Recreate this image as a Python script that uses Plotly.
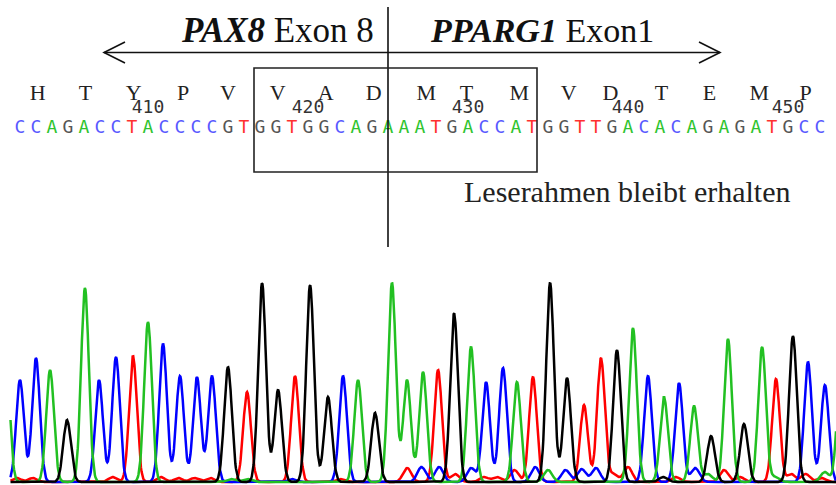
import numpy as np
import plotly.graph_objects as go

W, H = 836, 485

# ---------------- data ----------------
sequence = list("CCAGACCTACCCCGTGGTGGCAGAAATGACCATGGTTGACACAGAGATGCC")
first_base_number = 402
number_labels = [410, 420, 430, 440, 450]

amino_acids = ["H", "T", "Y", "P", "V", "V", "A", "D", "M", "T", "M",
               "V", "D", "T", "E", "M", "P"]
amino_pos = [2.1, 5.1, 8.1, 11.2, 14.0, 17.1, 20.1, 23.1, 26.4, 28.9, 32.2,
             35.3, 37.9, 41.1, 44.1, 47.2, 50.1]

# main chromatogram peaks: position (base units), base call, height
peak_pos = [0.1, 1.0, 2.0, 2.88, 3.94, 5.06, 5.94, 7.0, 8.06, 9.0, 9.94, 11.0,
            12.06, 13.0, 14.0, 15.19, 16.13, 17.13, 18.19, 19.13, 20.25, 21.19,
            22.13, 23.19, 24.25, 25.19, 26.19, 27.13, 28.13, 29.19, 30.13, 31.19,
            32.06, 33.06, 34.13, 35.19, 36.25, 37.31, 38.31, 39.31, 40.25, 41.25,
            42.19, 43.13, 44.19, 45.25, 46.25, 47.38, 48.25, 49.31, 50.25, 51.31,
            52.3]
peak_base = list("A" + "CCAGACCTACCCCGTGGTGGCAGAAATGACCATGGTTGACACAGAGATGCC" + "A")
peak_height = [140, 102, 124, 112, 62, 194, 102, 125, 126, 160, 138, 106,
               105, 106, 115, 90, 199, 92, 106, 197, 85, 106,
               102, 69, 199, 102, 110, 112, 169, 135, 100, 114,
               100, 105, 199, 104, 77, 124, 132, 154, 106, 85,
               99, 76, 46, 143, 58, 135, 103, 146, 120, 97,
               110]

# small background peaks
bg_pos = [0.8, 1.8, 6.8, 9.8, 10.9, 11.9, 12.9, 14.2, 15.2, 18.0, 21.0, 25.2,
          26.1, 27.2, 28.2, 29.2, 30.0, 30.8, 31.9, 33.2, 34.0, 35.1, 36.1, 37.0,
          38.1, 39.0, 41.2, 42.0, 43.2, 44.0, 45.0, 46.0, 48.2, 49.2, 50.1, 51.1, 51.3]
bg_base = ["T", "T", "T", "T", "T", "T", "T", "A", "A", "C", "T", "T",
           "C", "C", "T", "C", "T", "T", "T", "C", "A", "C", "C", "C",
           "T", "T", "G", "T", "C", "A", "T", "T", "A", "T", "T", "T", "A"]
bg_height = [4, 4, 5, 5, 4, 4, 4, 3, 3, 3, 3, 14,
             15, 15, 8, 14, 5, 5, 12, 15, 12, 12, 13, 14,
             8, 15, 5, 5, 14, 8, 12, 5, 5, 8, 8, 4, 10]

channel_colors = {"A": "#22c022", "C": "#0000ff", "G": "#000000", "T": "#ff0000"}
text_colors = {"A": "#2fc42f", "C": "#5858ff", "G": "#555555", "T": "#ff3030"}

# ---------------- geometry ----------------
px_per_base = 16.0
x0_px = 20.0  # pixel of base index 1
def px_to_base(px):
    return (px - x0_px) / px_per_base + 1

x_range = [px_to_base(0), px_to_base(W)]
sigma = 0.24

grid = np.linspace(px_to_base(10.5), x_range[1], 1400)

fig = go.Figure()

for ch in ["T", "C", "A", "G"]:
    y = np.zeros_like(grid)
    for p, b, h in zip(peak_pos, peak_base, peak_height):
        if b == ch:
            y += h * np.exp(-((grid - p) ** 2) / (2 * sigma ** 2))
    for p, b, h in zip(bg_pos, bg_base, bg_height):
        if b == ch:
            y += h * np.exp(-((grid - p) ** 2) / (2 * (sigma * 1.1) ** 2))
    fig.add_trace(go.Scatter(x=grid, y=y, mode="lines",
                             line=dict(color=channel_colors[ch], width=2.5),
                             hoverinfo="skip", showlegend=False,
                             xaxis="x", yaxis="y"))

# ---------------- text rows (pixel y axis y2) ----------------
seq_x = list(range(1, len(sequence) + 1))
fig.add_trace(go.Scatter(
    x=seq_x, y=[128.5] * len(sequence), mode="text", text=sequence,
    textfont=dict(family="DejaVu Sans Mono", size=18,
                  color=[text_colors[s] for s in sequence]),
    hoverinfo="skip", showlegend=False, xaxis="x", yaxis="y2"))

num_x = [n - first_base_number + 1 for n in number_labels]
fig.add_trace(go.Scatter(
    x=num_x, y=[108.5] * len(number_labels), mode="text",
    text=[str(n) for n in number_labels],
    textfont=dict(family="DejaVu Sans Mono", size=18, color="#333333"),
    hoverinfo="skip", showlegend=False, xaxis="x", yaxis="y2"))

fig.add_trace(go.Scatter(
    x=amino_pos, y=[94] * len(amino_acids), mode="text", text=amino_acids,
    textfont=dict(family="Liberation Serif", size=22, color="#222222"),
    hoverinfo="skip", showlegend=False, xaxis="x", yaxis="y2"))

# ---------------- shapes (pixel coords via paper) ----------------
def px(x):
    return x / W
def py(y):
    return 1 - y / H

shapes = []
line_style = dict(color="#111111", width=1.6)
shapes.append(dict(type="line", xref="paper", yref="paper",
                   x0=px(388), x1=px(388), y0=py(7), y1=py(247), line=line_style))
shapes.append(dict(type="line", xref="paper", yref="paper",
                   x0=px(104), x1=px(720), y0=py(52.5), y1=py(52.5), line=line_style))
shapes.append(dict(type="path", xref="paper", yref="paper",
                   path=f"M {px(125)},{py(42)} L {px(104)},{py(52.5)} L {px(125)},{py(63)}",
                   line=line_style))
shapes.append(dict(type="path", xref="paper", yref="paper",
                   path=f"M {px(699)},{py(42)} L {px(720)},{py(52.5)} L {px(699)},{py(63)}",
                   line=line_style))
shapes.append(dict(type="rect", xref="paper", yref="paper",
                   x0=px(254), x1=px(537), y0=py(68), y1=py(172),
                   line=dict(color="#222222", width=1.6)))

annotations = [
    dict(text="<b><i>PAX8</i></b> Exon 8", xref="paper", yref="paper",
         x=px(376), y=py(31), xanchor="right", yanchor="middle", showarrow=False,
         font=dict(family="Liberation Serif", size=35, color="#111111")),
    dict(text="<b><i>PPARG1</i></b> Exon1", xref="paper", yref="paper",
         x=px(428), y=py(31), xanchor="left", yanchor="middle", showarrow=False,
         font=dict(family="Liberation Serif", size=34, color="#111111")),
    dict(text="Leserahmen bleibt erhalten", xref="paper", yref="paper",
         x=px(462), y=py(192), xanchor="left", yanchor="middle", showarrow=False,
         font=dict(family="Liberation Serif", size=30, color="#222222")),
]

fig.update_layout(
    width=W, height=H, margin=dict(l=0, r=0, t=0, b=0),
    paper_bgcolor="white", plot_bgcolor="rgba(0,0,0,0)",
    showlegend=False, shapes=shapes, annotations=annotations,
    xaxis=dict(range=x_range, visible=False, fixedrange=True),
    yaxis=dict(domain=[0, 203 / H], range=[-3, 200], visible=False, fixedrange=True),
    yaxis2=dict(domain=[0, 1], range=[H, 0], anchor="x", visible=False, fixedrange=True),
)

fig.write_html("out.html", config={"displayModeBar": False},
               post_script="document.body.style.margin='0';")
